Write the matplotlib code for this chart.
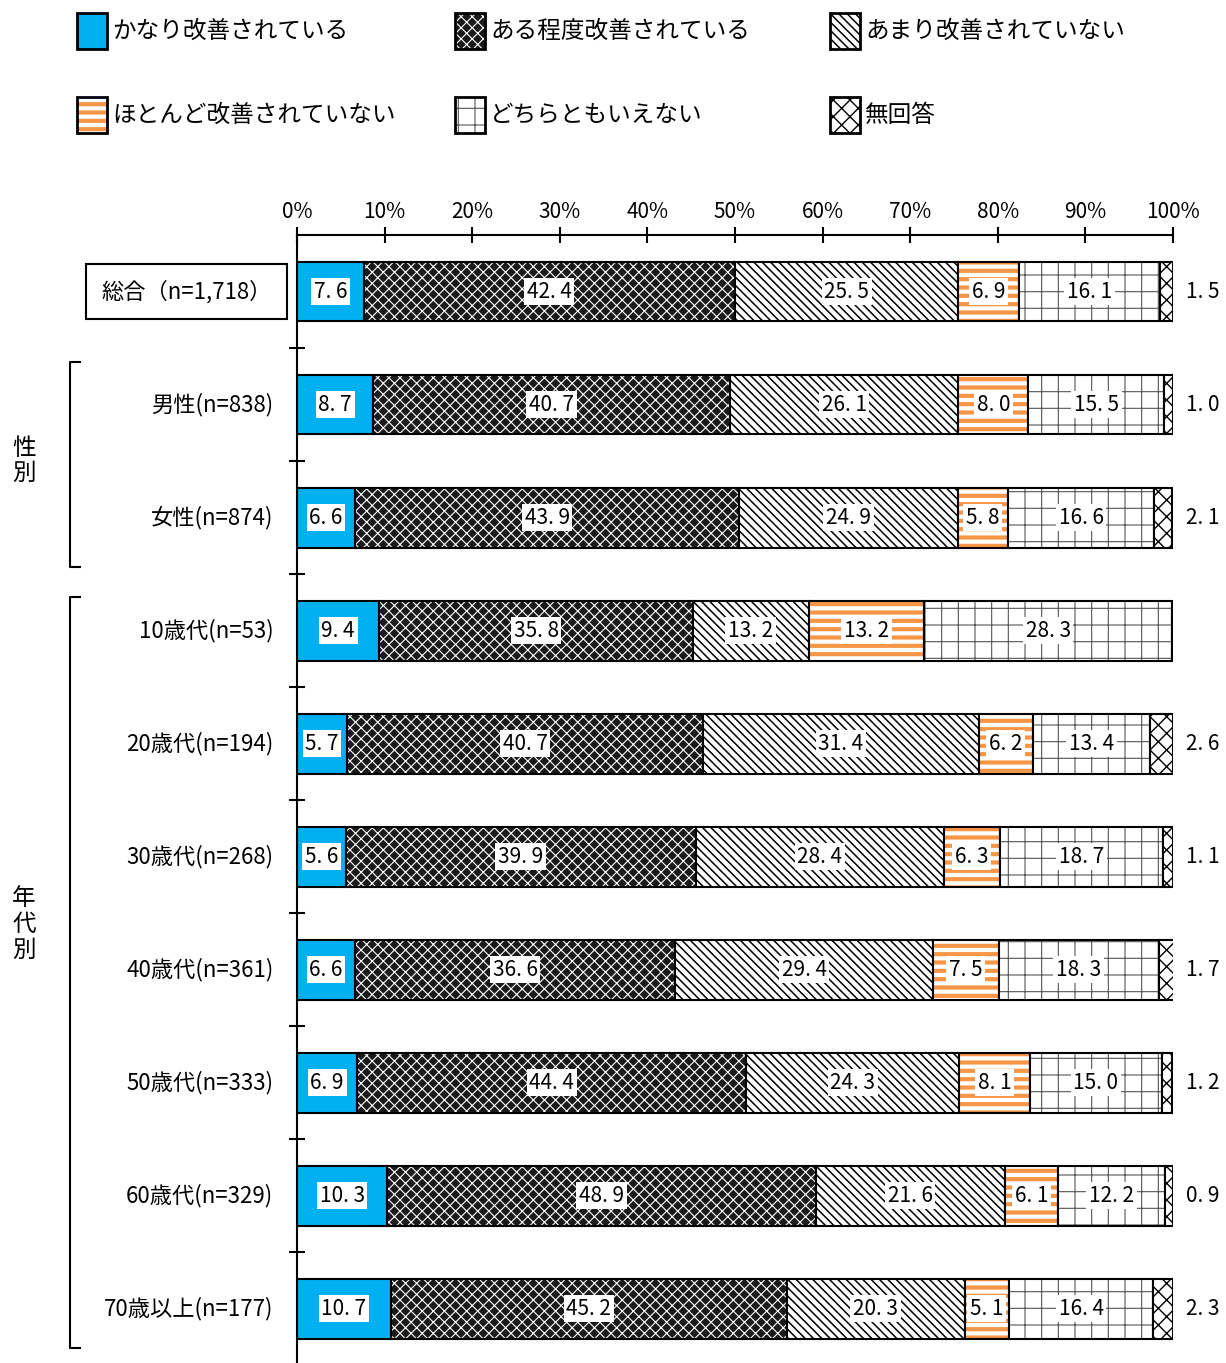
import matplotlib
matplotlib.use("Agg")
import matplotlib.pyplot as plt
import matplotlib.patches as mpatches
import matplotlib.transforms as mtransforms
import numpy as np

plt.rcParams['font.family'] = ['Noto Sans CJK JP', 'DejaVu Sans']
plt.rcParams['hatch.linewidth'] = 1.0

# data
categories = ["総合（n=1,718）", "男性(n=838)", "女性(n=874)", "10歳代(n=53)",
              "20歳代(n=194)", "30歳代(n=268)", "40歳代(n=361)", "50歳代(n=333)",
              "60歳代(n=329)", "70歳以上(n=177)"]
series_names = ["かなり改善されている", "ある程度改善されている", "あまり改善されていない",
                "ほとんど改善されていない", "どちらともいえない", "無回答"]
kanari = [7.6, 8.7, 6.6, 9.4, 5.7, 5.6, 6.6, 6.9, 10.3, 10.7]
aruteido = [42.4, 40.7, 43.9, 35.8, 40.7, 39.9, 36.6, 44.4, 48.9, 45.2]
amari = [25.5, 26.1, 24.9, 13.2, 31.4, 28.4, 29.4, 24.3, 21.6, 20.3]
hotondo = [6.9, 8.0, 5.8, 13.2, 6.2, 6.3, 7.5, 8.1, 6.1, 5.1]
dochira = [16.1, 15.5, 16.6, 28.3, 13.4, 18.7, 18.3, 15.0, 12.2, 16.4]
mukaitou = [1.5, 1.0, 2.1, 0.0, 2.6, 1.1, 1.7, 1.2, 0.9, 2.3]
# (label, bracket start, bracket end, label centre) in row units
groups = [("性\n別", 0.62, 2.44, 1.5), ("年\n代\n別", 2.70, 9.35, 5.6)]

series = [kanari, aruteido, amari, hotondo, dochira, mukaitou]
# (facecolor, hatch colour, hatch, hatch linewidth)
styles = [
    ("#00B0F0", "#00B0F0", None, 1.0),
    ("#1a1a1a", "white", "xxx", 0.8),
    ("white", "black", "\\\\\\\\", 1.1),
    ("white", "#F79646", "--", 3.0),
    ("white", "#555555", "+", 0.8),
    ("white", "black", "xx", 1.0),
]

fig = plt.figure(figsize=(12.26, 13.63), dpi=100)
ax = fig.add_axes([297 / 1226, 0.0, 876 / 1226, 1 - 235 / 1363])

y = np.arange(len(categories))
h = 0.53
left = np.zeros(len(categories))


def style_patch(p, hlw):
    if hasattr(p, "set_hatch_linewidth"):
        p.set_hatch_linewidth(hlw)


for vals, (fc, hc, hatch, hlw) in zip(series, styles):
    vals = np.array(vals)
    bars = ax.barh(y, vals, left=left, height=h, color=fc, edgecolor=hc,
                   hatch=hatch, linewidth=0)
    for p in bars:
        style_patch(p, hlw)
    ax.barh(y, vals, left=left, height=h, color="none", edgecolor="black",
            linewidth=1.5)
    left += vals

# value labels
for i in range(len(categories)):
    cum = 0
    for k, vals in enumerate(series):
        v = vals[i]
        if v > 0:
            txt = f"{v:.1f}".replace(".", ". ")
            if k == 5:
                ax.text(103.4, i, txt, ha="center", va="center", fontsize=15)
            else:
                ax.text(cum + v / 2, i, txt, ha="center", va="center", fontsize=15,
                        bbox=dict(facecolor="white", edgecolor="none", pad=2))
        cum += v

# category labels
for i, lab in enumerate(categories):
    if i == 0:
        ax.text(-12.6, i, lab, ha="center", va="center", fontsize=16,
                bbox=dict(boxstyle="square,pad=0.7", facecolor="white",
                          edgecolor="black", linewidth=1.5))
    else:
        ax.text(-2.7, i, lab, ha="right", va="center", fontsize=16)

ax.set_xlim(0, 100)
ax.set_ylim(9.48, -0.5)
ax.xaxis.tick_top()
ax.set_xticks(np.arange(0, 101, 10))
ax.set_xticklabels([f"{t}%" for t in range(0, 101, 10)], fontsize=15)
ax.set_yticks(np.arange(len(categories) - 1) + 0.5)
ax.set_yticklabels([])
ax.tick_params(axis="both", direction="inout", length=12, width=1.5, pad=3)
for s in ["right", "bottom"]:
    ax.spines[s].set_visible(False)
for s in ["top", "left"]:
    ax.spines[s].set_linewidth(1.5)

# group brackets
tr = mtransforms.blended_transform_factory(fig.transFigure, ax.transData)
x0, x1 = 70 / 1226, 80 / 1226
for name, ya, yb, yc in groups:
    ax.plot([x1, x0, x0, x1], [ya, ya, yb, yb], color="black", lw=1.5,
            transform=tr, clip_on=False)
    ax.text(24 / 1226, yc, name, ha="center", va="center",
            fontsize=17, linespacing=1.15, transform=tr)

# legend
col_x = [77, 455, 830]
row_y = [31, 115]
for k, name in enumerate(series_names):
    fc, hc, hatch, hlw = styles[k]
    cx = col_x[k % 3]
    cy = row_y[k // 3]
    w, hh = 30 / 1226, 36 / 1363
    bx, by = cx / 1226, 1 - (cy + 18) / 1363
    r = mpatches.Rectangle((bx, by), w, hh, transform=fig.transFigure,
                           facecolor=fc, edgecolor=hc, hatch=hatch, linewidth=0)
    style_patch(r, hlw)
    fig.add_artist(r)
    fig.add_artist(mpatches.Rectangle((bx, by), w, hh, transform=fig.transFigure,
                                      facecolor="none", edgecolor="black",
                                      linewidth=2))
    fig.text((cx + 35) / 1226, 1 - cy / 1363, name, ha="left", va="center",
             fontsize=17)

fig.savefig("out.png", dpi=100)
